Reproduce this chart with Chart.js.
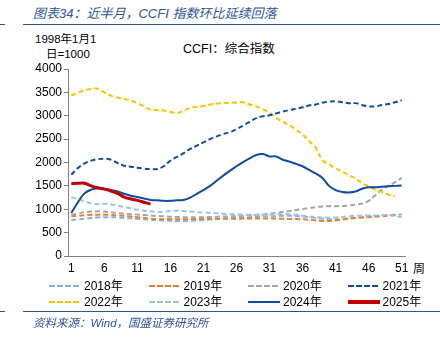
<!DOCTYPE html>
<html>
<head>
    <meta charset="utf-8">
    <title>CCFI 综合指数</title>
    <script src="https://cdn.jsdelivr.net/npm/chart.js"></script>
    <style>
        body {
            margin: 0;
            padding: 0;
            width: 440px;
            height: 341px;
            background: #fff;
            position: relative;
            overflow: hidden;
            font-family: "Liberation Sans", Arial, "Noto Sans CJK SC", sans-serif;
            color: #000;
        }
        .abs { position: absolute; white-space: nowrap; }
        .title {
            left: 33px; top: 3px;
            font-size: 13px; font-style: italic;
            color: #2f5597;
            font-family: "Liberation Sans", "Noto Sans CJK SC", sans-serif;
        }
        .rule { height: 0; border-top: 1.5px solid #2f5597; }
        .unit { left: 35px; top: 32px; font-size: 11.5px; line-height: 15px; }
        .sub { left: 183px; top: 38px; font-size: 12.5px; }
        .week { left: 413px; top: 259px; font-size: 12px; }
        .source {
            left: 33px; top: 314px;
            font-size: 11.5px; font-style: italic;
            color: #2f5597;
        }
        #chartBox { position: absolute; left: 0; top: 0; width: 440px; height: 280px; }
        #legend { position: absolute; left: 49px; top: 278px; width: 400px; }
        .item {
            position: absolute;
            font-size: 12px;
            line-height: 16px;
            height: 16px;
        }
        .item .sample {
            display: inline-block;
            width: 32px;
            vertical-align: middle;
            margin-right: 3px;
            position: relative;
            top: -1px;
        }
    </style>
</head>
<body>
    <div class="abs title">图表34：近半月，CCFI 指数环比延续回落</div>
    <div class="abs rule" style="left:23px; top:24px; width:417px;"></div>
    <div class="abs rule" style="left:0; top:24px; width:5px;"></div>
    <div class="abs unit">1998年1月1<br><span style="padding-left:11px">日=1000</span></div>
    <div class="abs sub">CCFI：综合指数</div>
    <div id="chartBox"><canvas id="myChart" width="440" height="280"></canvas></div>
    <div class="abs week">周</div>
    <div id="legend"></div>
    <div class="abs rule" style="left:23px; top:311px; width:417px;"></div>
    <div class="abs rule" style="left:0; top:311px; width:5px;"></div>
    <div class="abs source">资料来源：Wind，国盛证券研究所</div>

    <script>
        // weeks 1..51
        const weeks = [];
        for (let w = 1; w <= 51; w++) weeks.push(String(w));

        const y2018 = [770, 785, 800, 815, 825, 830, 830, 825, 815, 805, 795, 785, 775, 765, 760, 755, 750, 750, 755, 760,
            770, 780, 790, 800, 810, 815, 820, 830, 835, 845, 850, 855, 860, 860, 855, 845, 830, 815, 800, 790,
            785, 790, 800, 815, 830, 845, 855, 865, 870, 880, 890];
        const y2019 = [850, 860, 870, 880, 885, 885, 880, 870, 860, 845, 830, 815, 800, 790, 785, 785, 785, 785, 790, 790,
            795, 795, 795, 795, 795, 795, 800, 800, 800, 800, 800, 800, 795, 790, 790, 785, 775, 760, 750, 750,
            760, 780, 800, 815, 825, 830, 840, 850, 860, 875, null];
        const y2020 = [880, 910, 935, 950, 955, 950, 935, 920, 905, 895, 885, 875, 865, 855, 850, 840, 835, 830, 830, 830,
            830, 835, 840, 845, 850, 855, 860, 870, 880, 890, 905, 920, 940, 960, 985, 1005, 1025, 1045, 1060, 1065,
            1065, 1070, 1080, 1100, 1120, 1180, 1300, 1420, 1500, 1580, 1670];
        const y2021 = [1740, 1880, 1980, 2040, 2070, 2080, 2060, 1990, 1930, 1910, 1890, 1870, 1860, 1860, 1920, 2040, 2120, 2200, 2290, 2360,
            2430, 2500, 2560, 2610, 2650, 2710, 2790, 2870, 2950, 2990, 3010, 3050, 3090, 3120, 3150, 3180, 3220, 3240, 3280, 3300,
            3310, 3290, 3270, 3270, 3230, 3200, 3200, 3230, 3250, 3290, 3330];
        const y2022 = [3430, 3490, 3550, 3570, 3580, 3500, 3430, 3390, 3360, 3320, 3270, 3200, 3130, 3120, 3110, 3080, 3060, 3110, 3170, 3190,
            3210, 3240, 3260, 3270, 3275, 3285, 3290, 3240, 3200, 3140, 3060, 2960, 2870, 2800, 2700, 2600, 2460, 2310, 2050, 1960,
            1880, 1800, 1730, 1660, 1560, 1490, 1420, 1370, 1310, 1270, null];
        const y2023 = [1260, 1215, 1170, 1130, 1110, 1115, 1100, 1075, 1050, 1020, 990, 970, 955, 940, 945, 965, 970, 960, 950, 940,
            930, 925, 915, 905, 895, 890, 885, 880, 880, 880, 885, 890, 895, 895, 880, 860, 845, 835, 825, 820,
            825, 835, 850, 860, 865, 865, 865, 870, 880, 855, 830];
        const y2024 = [920, 1150, 1340, 1420, 1450, 1440, 1410, 1380, 1330, 1290, 1260, 1230, 1200, 1190, 1180, 1180, 1190, 1200, 1250, 1330,
            1410, 1500, 1610, 1720, 1820, 1920, 2010, 2090, 2160, 2180, 2130, 2130, 2060, 2020, 1970, 1920, 1840, 1760, 1670, 1500,
            1410, 1370, 1360, 1380, 1440, 1470, 1470, 1480, 1490, 1500, 1510];
        const y2025 = [1545, 1555, 1555, 1500, 1460, 1430, 1390, 1340, 1260, 1220, 1190, 1150, 1110];

        const seriesNames = ['2018年', '2019年', '2020年', '2021年', '2022年', '2023年', '2024年', '2025年'];
        const seriesData = [y2018, y2019, y2020, y2021, y2022, y2023, y2024, y2025];
        const seriesColors = ['#8faadc', '#ed7d31', '#a5a5a5', '#0f4c9e', '#ffc000', '#9dc3e6', '#0f4c9e', '#c00000'];
        const seriesDashed = [true, true, true, true, true, true, false, false];
        const seriesWidth = [2, 2, 2, 2, 2, 2, 2, 3];
        const seriesOrder = [7, 6, 5, 3, 4, 2, 1, 0];

        const datasets = seriesNames.map((name, i) => ({
            label: name,
            data: seriesData[i],
            borderColor: seriesColors[i],
            backgroundColor: seriesColors[i],
            borderWidth: seriesWidth[i],
            borderDash: seriesDashed[i] ? [5, 3] : [],
            pointRadius: 0,
            tension: 0.4,
            fill: false,
            spanGaps: false,
            order: seriesOrder[i]
        }));

        new Chart(document.getElementById('myChart'), {
            type: 'line',
            data: { labels: weeks, datasets: datasets },
            options: {
                responsive: false,
                devicePixelRatio: 1,
                animation: false,
                layout: { padding: { left: 0, right: 35, top: 69, bottom: 4 } },
                plugins: { legend: { display: false }, tooltip: { enabled: false } },
                scales: {
                    x: {
                        offset: true,
                        grid: { display: true, drawOnChartArea: false, drawTicks: false },
                        border: { display: true, color: '#808080', width: 1 },
                        ticks: {
                            autoSkip: false,
                            maxRotation: 0,
                            padding: 5,
                            color: '#000',
                            font: { size: 12, family: '"Liberation Sans", Arial' },
                            callback: function (val, i) { return i % 5 === 0 ? weeks[i] : ''; }
                        },
                        afterFit: function (scale) { scale.height = 20; }
                    },
                    y: {
                        min: 0,
                        max: 4000,
                        grid: { display: true, drawOnChartArea: false, drawTicks: true, tickLength: 4, color: '#808080' },
                        border: { display: true, color: '#808080', width: 1 },
                        ticks: {
                            stepSize: 500,
                            padding: 2,
                            color: '#000',
                            font: { size: 12, family: '"Liberation Sans", Arial' },
                            callback: function (val) { return String(val); }
                        },
                        afterFit: function (scale) { scale.width = 68; }
                    }
                }
            }
        });

        // legend, 4 columns x 2 rows
        const legend = document.getElementById('legend');
        seriesNames.forEach((name, i) => {
            const item = document.createElement('div');
            item.className = 'item';
            item.style.left = (i % 4) * 99.5 + 'px';
            item.style.top = Math.floor(i / 4) * 16 + 'px';
            const sample = document.createElement('span');
            sample.className = 'sample';
            const h = seriesWidth[i] + 0.5;
            sample.style.height = h + 'px';
            sample.style.background = seriesDashed[i]
                ? 'repeating-linear-gradient(to right, ' + seriesColors[i] + ' 0 6px, transparent 6px 8px)'
                : seriesColors[i];
            item.appendChild(sample);
            item.appendChild(document.createTextNode(name));
            legend.appendChild(item);
        });
    </script>
</body>
</html>
